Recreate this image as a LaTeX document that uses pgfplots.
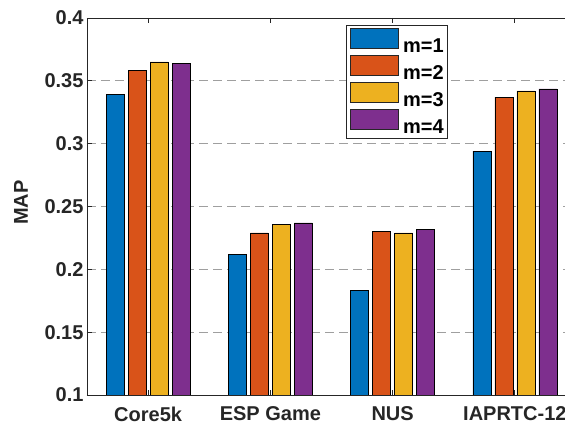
\documentclass[border=0pt]{standalone}
\usepackage{fontspec}
\setmainfont{Liberation Sans}
\usepackage{pgfplots}
\pgfplotsset{compat=1.18}
\definecolor{mblue}{rgb}{0,0.447,0.741}
\definecolor{mred}{rgb}{0.85,0.325,0.098}
\definecolor{myellow}{rgb}{0.929,0.694,0.125}
\definecolor{mpurple}{rgb}{0.494,0.184,0.556}
\definecolor{axgray}{rgb}{0.15,0.15,0.15}
\newcommand{\bigfont}{\fontsize{20}{23}\selectfont\bfseries}
\begin{document}
\begin{tikzpicture}
\begin{axis}[
  scale only axis, width=489pt, height=377pt,
  ybar=4pt, bar width=18pt,
  xmin=0.5, xmax=4.5, ymin=0.1, ymax=0.4,
  xtick={1,2,3,4}, xticklabels={Core5k,ESP Game,NUS,IAPRTC-12},
  ytick={0.1,0.15,0.2,0.25,0.3,0.35,0.4},
  yticklabels={0.1,0.15,0.2,0.25,0.3,0.35,0.4},
  ymajorgrids,
  grid style={dash pattern=on 9pt off 5pt, color=gray!75, line width=0.8pt},
  tick align=inside, major tick length=5pt,
  axis line style={axgray, line width=0.8pt},
  tick style={axgray, line width=0.8pt},
  every tick label/.append style={font=\bigfont, text=axgray},
  xticklabel style={yshift=-8.5pt},
  ylabel={MAP},
  ylabel style={font=\bigfont, text=axgray, at={(axis description cs:-0.135,0.51)}, anchor=center},
  legend style={at={(0.53,0.981)}, anchor=north west, draw=axgray, line width=0.6pt,
    font=\bigfont, text=black, inner xsep=4pt, inner ysep=3pt, row sep=1.5pt, column sep=4pt,
    nodes={inner sep=0pt}},
  legend cell align=left,
  legend image code/.code={\draw[#1, draw=axgray, line width=0.6pt] (0pt,-2.5pt) rectangle (48pt,17.5pt);},
  every axis plot/.append style={draw=black, line width=0.6pt},
]
\addplot[fill=mblue] coordinates {(1,0.339) (2,0.212) (3,0.183) (4,0.294)};
\addplot[fill=mred] coordinates {(1,0.358) (2,0.229) (3,0.2305) (4,0.337)};
\addplot[fill=myellow] coordinates {(1,0.365) (2,0.236) (3,0.229) (4,0.342)};
\addplot[fill=mpurple] coordinates {(1,0.364) (2,0.237) (3,0.232) (4,0.3435)};
\legend{m=1,m=2,m=3,m=4}
\coordinate (sw) at (rel axis cs:0,0);
\end{axis}
\pgfresetboundingbox
\useasboundingbox ([shift={(-87pt,-30pt)}]sw) rectangle ([shift={(478pt,395pt)}]sw);
\end{tikzpicture}
\end{document}
